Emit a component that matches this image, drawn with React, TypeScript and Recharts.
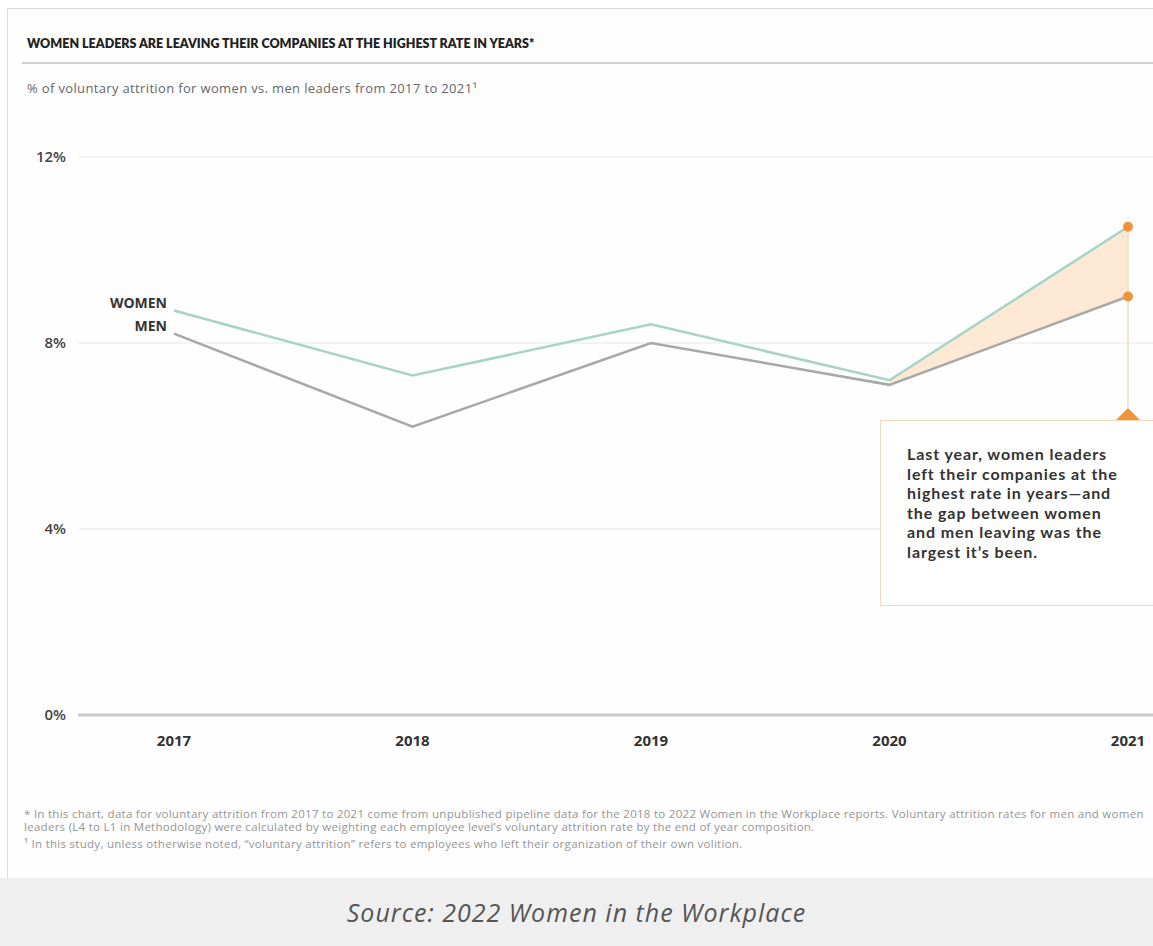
import {
  ComposedChart,
  Line,
  Area,
  XAxis,
  YAxis,
  CartesianGrid,
  ReferenceLine,
  ReferenceDot,
} from 'recharts'

const years = ['2017', '2018', '2019', '2020', '2021']
const womenRate = [8.7, 7.3, 8.4, 7.2, 10.5]
const menRate = [8.2, 6.2, 8.0, 7.1, 9.0]
const gapYears = ['2020', '2021']
const yTicks = [0, 4, 8, 12]
const markerTop = 6.6

const FONT = '"Open Sans", Lato, sans-serif'
const TITLE_FONT = 'Lato, "Open Sans", sans-serif'
const ORANGE = '#f0933a'

const chartData = years.map((year, i) => ({
  year,
  women: womenRate[i],
  men: menRate[i],
  gap: gapYears.includes(year) ? [menRate[i], womenRate[i]] : null,
}))

const lastIndex = years.length - 1

// name tag at the start of each line
const seriesLabel = (name: string) => (props: any) => {
  const { x, y, index } = props
  if (index !== 0) return <g key={`l-${name}-${index}`} />
  return (
    <text
      key={`l-${name}`}
      x={x - 7}
      y={y - 6}
      textAnchor="end"
      dominantBaseline="middle"
      fontFamily={FONT}
      fontSize={14}
      fontWeight={700}
      fill="#333"
    >
      {name}
    </text>
  )
}

const endDot = (props: any) => {
  const { cx, cy, index } = props
  if (index !== lastIndex) return <g key={`d-${index}`} />
  return <circle key={`d-${index}`} cx={cx} cy={cy} r={5} fill={ORANGE} />
}

const Triangle = (props: any) => {
  const { cx, cy } = props
  return <path d={`M${cx - 13},${cy + 13} L${cx},${cy} L${cx + 13},${cy + 13} Z`} fill={ORANGE} />
}

const footnotes = [
  '*   In this chart, data for voluntary attrition from 2017 to 2021 come from unpublished pipeline data for the 2018 to 2022 Women in the Workplace reports. Voluntary attrition rates for men and women',
  'leaders (L4 to L1 in Methodology) were calculated by weighting each employee level\u2019s voluntary attrition rate by the end of year composition.',
  '\u00b9   In this study, unless otherwise noted, \u201cvoluntary attrition\u201d refers to employees who left their organization of their own volition.',
]

const calloutLines = [
  'Last year, women leaders',
  'left their companies at the',
  'highest rate in years\u2014and',
  'the gap between women',
  'and men leaving was the',
  'largest it\u2019s been.',
]

export default function App() {
  return (
    <div
      style={{
        position: 'absolute',
        left: 0,
        top: 0,
        width: 1153,
        height: 946,
        overflow: 'hidden',
        background: '#fff',
        fontFamily: FONT,
      }}
    >
      {/* card frame */}
      <div
        style={{
          position: 'absolute',
          left: 7,
          top: 8,
          width: 1200,
          height: 870,
          border: '1px solid #dcdcdc',
          background: '#fefefe',
        }}
      />
      <div
        style={{
          position: 'absolute',
          left: 27,
          top: 36,
          fontFamily: TITLE_FONT,
          fontSize: 12.5,
          fontWeight: 800,
          color: '#222',
          whiteSpace: 'nowrap',
        }}
      >
        WOMEN LEADERS ARE LEAVING THEIR COMPANIES AT THE HIGHEST RATE IN YEARS*
      </div>
      <div style={{ position: 'absolute', left: 22, top: 62, width: 1140, height: 2, background: '#cfcfcf' }} />
      <div
        style={{
          position: 'absolute',
          left: 27,
          top: 79,
          fontSize: 13,
          letterSpacing: 0.35,
          color: '#666',
          whiteSpace: 'nowrap',
        }}
      >
        % of voluntary attrition for women vs. men leaders from 2017 to 2021¹
      </div>

      <div style={{ position: 'absolute', left: 0, top: 0 }}>
        <ComposedChart
          width={1153}
          height={800}
          data={chartData}
          margin={{ top: 157, right: 0, left: 0, bottom: 0 }}
        >
          <CartesianGrid vertical={false} stroke="#e8e8e8" strokeWidth={1} />
          <XAxis
            dataKey="year"
            height={85}
            padding={{ left: 96, right: 25 }}
            axisLine={{ stroke: '#c9c9c9', strokeWidth: 3 }}
            tickLine={false}
            tickSize={6}
            tickMargin={14}
            tick={{ fill: '#333', fontSize: 15, fontWeight: 700, fontFamily: FONT }}
          />
          <YAxis
            width={78}
            domain={[0, 12]}
            ticks={yTicks}
            tickFormatter={(v) => `${v}%`}
            axisLine={false}
            tickLine={false}
            tickSize={6}
            tickMargin={6}
            tick={{ fill: '#444', fontSize: 15, fontWeight: 600, fontFamily: FONT }}
          />
          <Area
            dataKey="gap"
            fill="#fde8d4"
            fillOpacity={1}
            stroke="none"
            isAnimationActive={false}
            activeDot={false}
          />
          <ReferenceLine
            segment={[
              { x: '2021', y: womenRate[lastIndex] },
              { x: '2021', y: markerTop },
            ]}
            stroke="#f6dcc2"
            strokeWidth={1.5}
          />
          <Line
            dataKey="men"
            stroke="#a8a8a8"
            strokeWidth={2.5}
            dot={endDot}
            label={seriesLabel('MEN')}
            isAnimationActive={false}
          />
          <Line
            dataKey="women"
            stroke="#a6d4c8"
            strokeWidth={2.5}
            dot={endDot}
            label={seriesLabel('WOMEN')}
            isAnimationActive={false}
          />
          <ReferenceDot x="2021" y={markerTop} r={0} shape={Triangle} />
        </ComposedChart>
      </div>

      {/* callout box */}
      <div
        style={{
          position: 'absolute',
          left: 880,
          top: 420,
          width: 300,
          height: 186,
          boxSizing: 'border-box',
          border: '1.5px solid #f6d9b9',
          background: '#fff',
          padding: '23px 0 0 26px',
          fontFamily: TITLE_FONT,
          fontSize: 16,
          letterSpacing: 0.9,
          lineHeight: '19.5px',
          color: '#333',
          fontWeight: 700,
        }}
      >
        {calloutLines.map((l) => (
          <div key={l} style={{ whiteSpace: 'nowrap' }}>
            {l}
          </div>
        ))}
      </div>

      {/* footnotes */}
      <div
        style={{
          position: 'absolute',
          left: 24,
          top: 807,
          fontSize: 11.5,
          letterSpacing: 0.28,
          lineHeight: '13px',
          color: '#959595',
        }}
      >
        <div style={{ whiteSpace: 'nowrap' }}>{footnotes[0]}</div>
        <div style={{ whiteSpace: 'nowrap' }}>{footnotes[1]}</div>
        <div style={{ whiteSpace: 'nowrap', marginTop: 4 }}>{footnotes[2]}</div>
      </div>

      {/* source band */}
      <div
        style={{
          position: 'absolute',
          left: 0,
          top: 878,
          width: 1153,
          height: 68,
          background: '#efefef',
          display: 'flex',
          alignItems: 'center',
          justifyContent: 'center',
          fontStyle: 'italic',
          fontSize: 25,
          letterSpacing: 1,
          color: '#555',
        }}
      >
        Source: 2022 Women in the Workplace
      </div>
    </div>
  )
}
